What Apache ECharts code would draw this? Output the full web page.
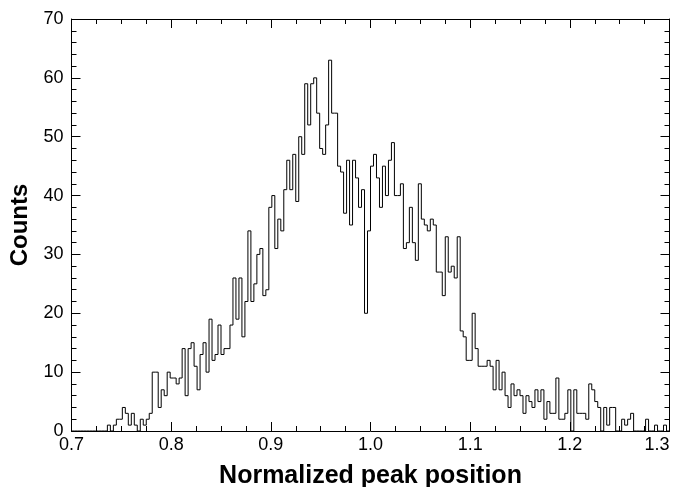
<!DOCTYPE html>
<html>
<head>
<meta charset="utf-8">
<script src="https://cdn.jsdelivr.net/npm/echarts@6/dist/echarts.min.js"></script>
<style>
html,body{margin:0;padding:0;background:#fff;}
#chart{width:680px;height:487px;}
</style>
</head>
<body>
<div id="chart"></div>
<script>
// Histogram data: bin edges start at binStart, each bin binWidth wide
const binStart = 0.7;
const binWidth = 0.003;
const counts = [
  0,0,0,0,0,0,0,0,0,0,
  0,0,1,0,1,2,2,4,3,1,
  3,1,0,2,1,2,3,10,10,4,
  7,6,10,9,9,8,9,14,6,14,
  15,11,7,13,15,10,19,12,13,18,
  13,14,14,18,26,19,26,16,22,34,
  22,25,30,31,23,24,38,40,31,36,
  34,41,46,41,47,39,50,47,59,52,
  59,60,54,48,47,52,63,54,54,45,
  44,37,46,35,46,43,38,41,20,34,
  45,47,43,38,45,40,46,49,40,40,
  42,31,32,38,32,29,42,36,35,34,
  36,35,27,27,23,33,27,28,26,33,
  17,16,12,12,20,14,11,11,11,12,
  11,7,12,7,10,6,4,8,6,7,
  6,3,6,5,4,7,5,7,2,5,
  3,3,9,2,2,3,7,0,7,3,
  3,3,2,8,7,5,4,0,4,1,
  4,4,0,0,2,1,2,3,0,0,
  0,0,2,0,0,1,0,0,1,0
];
const xTicks = [0.7, 0.8, 0.9, 1.0, 1.1, 1.2, 1.3];
const yTicks = [0, 10, 20, 30, 40, 50, 60, 70];
const xTitle = 'Normalized peak position';
const yTitle = 'Counts';

const stepData = counts.map((c, i) => [binStart + i * binWidth, c]);
stepData.push([binStart + counts.length * binWidth, counts[counts.length - 1]]);

const FONT = '"Liberation Sans", Arial, Helvetica, sans-serif';
const black = '#000';

function xAxisCfg(pos, showLabels) {
  return {
    type: 'value', position: pos,
    min: xTicks[0], max: xTicks[xTicks.length - 1], interval: 0.1,
    axisLine: { show: true, onZero: false, lineStyle: { color: black, width: 1 } },
    axisTick: { show: true, inside: true, length: 9, lineStyle: { color: black } },
    minorTick: { show: true, splitNumber: 4, length: 5, lineStyle: { color: black } },
    splitLine: { show: false },
    axisLabel: showLabels ? {
      show: true, color: black, fontFamily: FONT, fontSize: 18, margin: 5,
      alignMaxLabel: 'right',
      formatter: v => Number(v).toFixed(1)
    } : { show: false },
    name: showLabels ? xTitle : '',
    nameLocation: 'middle', nameGap: 33,
    nameTextStyle: { color: black, fontFamily: FONT, fontSize: 25, fontWeight: 'bold' }
  };
}
function yAxisCfg(pos, showLabels) {
  return {
    type: 'value', position: pos,
    min: yTicks[0], max: yTicks[yTicks.length - 1], interval: 10,
    axisLine: { show: true, onZero: false, lineStyle: { color: black, width: 1 } },
    axisTick: { show: true, inside: true, length: 9, lineStyle: { color: black } },
    minorTick: { show: true, splitNumber: 5, length: 5, lineStyle: { color: black } },
    splitLine: { show: false },
    axisLabel: showLabels ? {
      show: true, color: black, fontFamily: FONT, fontSize: 18, margin: 8
    } : { show: false },
    name: showLabels ? yTitle : '',
    nameLocation: 'middle', nameGap: 34, nameRotate: 90,
    nameTextStyle: { color: black, fontFamily: FONT, fontSize: 24, fontWeight: 'bold' }
  };
}

const chart = echarts.init(document.getElementById('chart'), null, { renderer: 'canvas' });
chart.setOption({
  animation: false,
  backgroundColor: '#fff',
  grid: { left: 71.5, right: 10.5, top: 19, bottom: 56, containLabel: false, outerBoundsMode: 'none' },
  xAxis: [xAxisCfg('bottom', true), xAxisCfg('top', false)],
  yAxis: [yAxisCfg('left', true), yAxisCfg('right', false)],
  series: [{
    type: 'line', step: 'end', xAxisIndex: 0, yAxisIndex: 0,
    data: stepData, symbol: 'none', showSymbol: false,
    lineStyle: { color: black, width: 1 },
    clip: true
  }]
});
</script>
</body>
</html>
